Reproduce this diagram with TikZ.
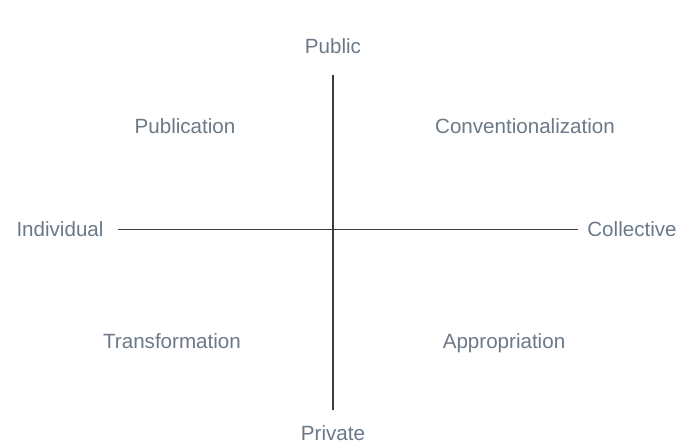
\documentclass[tikz,border=0pt]{standalone}
\usepackage{fontspec}
\setmainfont{Liberation Sans}
\definecolor{labelgray}{HTML}{6B7888}
\definecolor{axisgray}{HTML}{3C3C3C}
\tikzset{
  lbl/.style={text=labelgray, font=\fontsize{17.5}{20}\selectfont, inner sep=0pt, anchor=base},
  axis/.style={draw=axisgray, line width=1.2pt}
}
\begin{document}
\begin{tikzpicture}[x=0.85pt,y=-0.85pt]
            \useasboundingbox (0,0) rectangle (685,444);
            \node[lbl] (Pub) at(333,54){Public};
            \node[lbl] (Priv) at(333,440){Private};
            \node[lbl] (Ind) at(60,237){Individual};
            \node[lbl] (Col) at(632,237){Collective};
            \draw[axis,shorten <=17.5pt,shorten >=12.5pt] (Pub) -- (Priv);
            \draw[axis,shorten <=12pt,shorten >=7.5pt] (Ind) -- (Col);
            \node[lbl] (Pc) at(185,134) {Publication};
            \node[lbl] (Cv) at(525,134) {Conventionalization};
            \node[lbl] (Tr) at(172,348) {Transformation};
            \node[lbl] (Ap) at(504,348) {Appropriation};
        \end{tikzpicture}
\end{document}
